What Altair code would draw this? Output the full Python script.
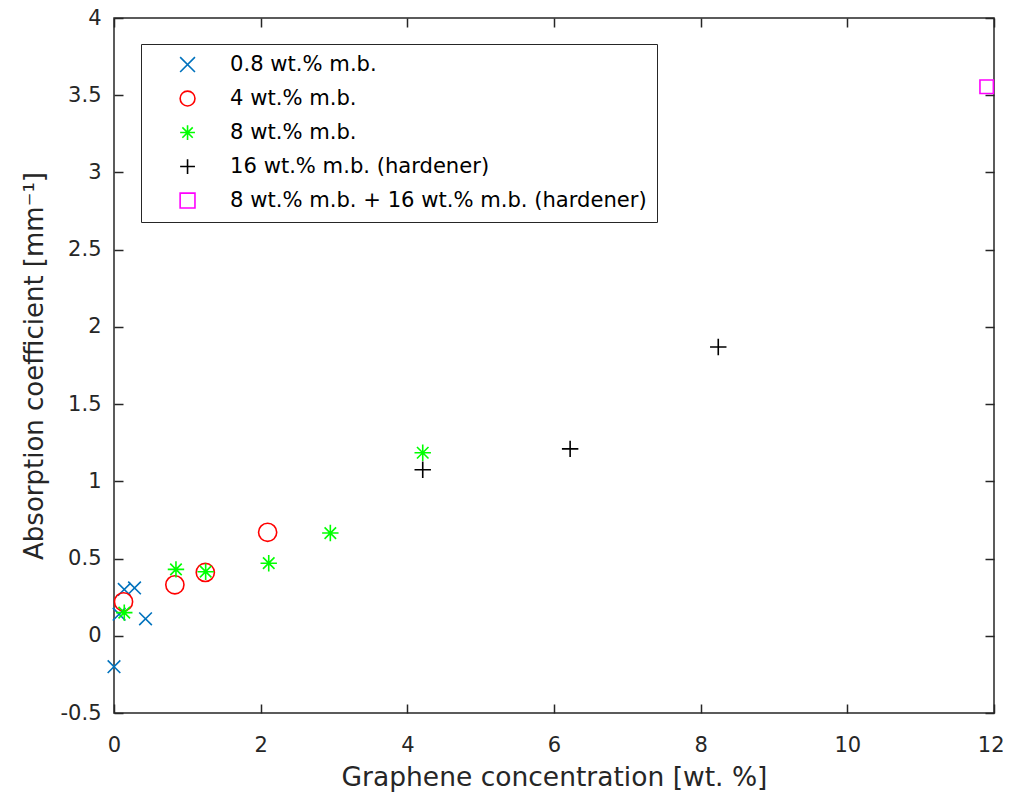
import altair as alt
import pandas as pd

series_names = [
    "0.8 wt.% m.b.",
    "4 wt.% m.b.",
    "8 wt.% m.b.",
    "16 wt.% m.b. (hardener)",
    "8 wt.% m.b. + 16 wt.% m.b. (hardener)",
]
colors = ["#0072BD", "#FF0000", "#00FF00", "#000000", "#FF00FF"]

x_08 = [0.0, 0.07, 0.14, 0.28, 0.43]
y_08 = [-0.20, 0.14, 0.30, 0.31, 0.11]
x_4 = [0.13, 0.83, 1.245, 2.095]
y_4 = [0.22, 0.33, 0.41, 0.67]
x_8 = [0.14, 0.845, 1.25, 2.11, 2.95, 4.21]
y_8 = [0.15, 0.43, 0.415, 0.47, 0.665, 1.185]
x_16 = [4.21, 6.22, 8.24]
y_16 = [1.075, 1.21, 1.87]
x_mix = [11.9]
y_mix = [3.555]

shape_x = "M-1,-1L1,1M-1,1L1,-1"
shape_plus = "M-1,0L1,0M0,-1L0,1"
shape_ast = "M-1,0L1,0M0,-1L0,1M-0.7,-0.7L0.7,0.7M-0.7,0.7L0.7,-0.7"
shapes = [shape_x, "circle", shape_ast, shape_plus, "square"]
sizes = [160, 330, 270, 270, 180]

xs = [x_08, x_4, x_8, x_16, x_mix]
ys = [y_08, y_4, y_8, y_16, y_mix]
rows = []
for i, (name, xv, yv) in enumerate(zip(series_names, xs, ys)):
    for a, b in zip(xv, yv):
        rows.append({"series": name, "conc": a, "absorb": b, "idx": i, "sz": sizes[i]})
df = pd.DataFrame(rows)

FONT = "DejaVu Sans"
AX = "#262626"

xscale = alt.Scale(domain=[0, 12], nice=False, zero=False)
yscale = alt.Scale(domain=[-0.5, 4], nice=False, zero=False)
xticks = [0, 2, 4, 6, 8, 10, 12]
yticks = [-0.5, 0, 0.5, 1, 1.5, 2, 2.5, 3, 3.5, 4]

legend = alt.Legend(
    orient="none", legendX=27, legendY=26, title=None,
    strokeColor=AX, fillColor="white", padding=10,
    labelFont=FONT, labelFontSize=21.1, labelColor="#000000",
    symbolSize=220, symbolStrokeWidth=1.6, symbolOffset=26, labelOffset=32,
    rowPadding=11, labelLimit=600, cornerRadius=0,
)

points = alt.Chart(df).mark_point(filled=False, strokeWidth=1.6, opacity=1).encode(
    x=alt.X("conc:Q", scale=xscale, title="Graphene concentration [wt. %]",
            axis=alt.Axis(orient="bottom", values=xticks, offset=-9, tickSize=9,
                          labelPadding=21, labelExpr="datum.value + ''",
                          labelFlush=False, titlePadding=9,
                          labelAlign={"condition": {"test": "datum.value == 12", "value": "right"},
                                      "value": "center"},
                          labelOffset={"condition": {"test": "datum.value == 12", "value": 10},
                                       "value": 0})),
    y=alt.Y("absorb:Q", scale=yscale, title="Absorption coefficient [mm⁻¹]",
            axis=alt.Axis(orient="left", values=yticks, offset=-9, tickSize=9,
                          labelPadding=13, labelExpr="datum.value + ''",
                          labelFlush=False, titlePadding=13, titleFontSize=26)),
    color=alt.Color("series:N", scale=alt.Scale(domain=series_names, range=colors),
                    sort=series_names, legend=legend),
    shape=alt.Shape("series:N", scale=alt.Scale(domain=series_names, range=shapes),
                    sort=series_names, legend=legend),
    size=alt.Size("sz:Q", scale=None),
    order=alt.Order("idx:Q"),
)

ticks2 = alt.Chart(df).mark_point(opacity=0).encode(
    x=alt.X("conc:Q", scale=xscale, title=None,
            axis=alt.Axis(orient="top", values=xticks, offset=-9, tickSize=9,
                          labels=False)),
    y=alt.Y("absorb:Q", scale=yscale, title=None,
            axis=alt.Axis(orient="right", values=yticks, offset=-9, tickSize=9,
                          labels=False)),
)

chart = alt.layer(points, ticks2).resolve_axis(x="independent", y="independent").properties(
    width=880, height=695,
    autosize=alt.AutoSizeParams(type="none"),
    padding={"left": 106, "top": 10, "right": 9, "bottom": 80},
).configure_view(
    stroke=AX, strokeWidth=1.5
).configure_axis(
    grid=False, domain=False, tickColor=AX, tickWidth=1.5,
    labelFont=FONT, labelFontSize=21, labelColor=AX,
    titleFont=FONT, titleFontSize=26.5, titleColor=AX, titleFontWeight="normal",
)

chart.save("out.html", embed_options={"renderer": "svg", "actions": False})
